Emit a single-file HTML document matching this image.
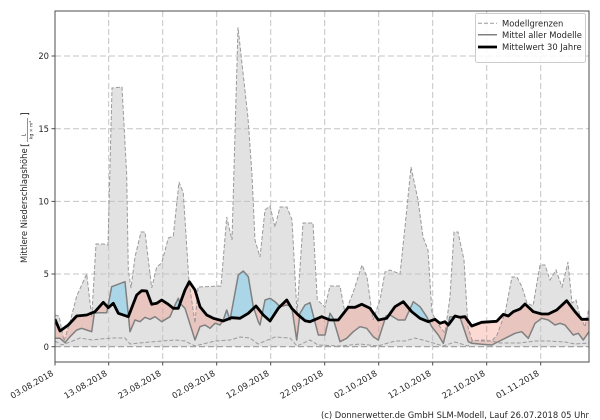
<!DOCTYPE html>
<html>
<head>
<meta charset="utf-8">
<style>
html,body{margin:0;padding:0;background:#fff;}
svg{display:block;}
text{font-family:"DejaVu Sans","Liberation Sans",sans-serif;fill:#262626;}
</style>
</head>
<body>
<svg width="600" height="420" viewBox="0 0 600 420" xmlns="http://www.w3.org/2000/svg">
<defs>
<clipPath id="plot"><rect x="55" y="11" width="534" height="351"/></clipPath>
<clipPath id="above"><polygon points="55,0 589,0 589,319.3 581.7,319.3 575,311.7 566.7,300.7 556.7,310 548.3,314 541.7,314 533.3,311.7 525,304 520,309 513.3,311.7 508.3,316 503.3,314.3 496.7,321.3 481.7,322.3 471.7,326 465,316.7 460,317.3 455,316 448.3,325 445,321.7 440,323.3 435,319.3 428.3,321.7 420,318.3 411.7,311.7 403.3,301.7 395,306.7 386.7,318.3 378.3,320 370,308.3 361.7,304.3 355,307.3 348.3,307.3 338.3,320 330,320 321.7,316.7 310,321.7 305,320.7 298.3,315 291.7,308.3 286.7,300 278.3,308.3 270,321 263.3,315 256,306 248.3,313.3 240,318.3 231.7,317.7 223.3,321 213.3,318.3 206.7,315 200,306.7 195,290 189.3,281.7 185,290 178.3,308.3 173.3,308.3 168.3,304.3 161.7,300 156.7,303.3 151.7,304.3 146.7,291 141.7,290.7 136.7,295 128.3,316.7 118.3,313.3 113.3,303.3 108.3,307.7 103.3,302.3 95,311.7 86.7,315 76.7,316 68.3,325 60,331 55,319.3"/></clipPath>
<clipPath id="below"><polygon points="55,420 589,420 589,319.3 581.7,319.3 575,311.7 566.7,300.7 556.7,310 548.3,314 541.7,314 533.3,311.7 525,304 520,309 513.3,311.7 508.3,316 503.3,314.3 496.7,321.3 481.7,322.3 471.7,326 465,316.7 460,317.3 455,316 448.3,325 445,321.7 440,323.3 435,319.3 428.3,321.7 420,318.3 411.7,311.7 403.3,301.7 395,306.7 386.7,318.3 378.3,320 370,308.3 361.7,304.3 355,307.3 348.3,307.3 338.3,320 330,320 321.7,316.7 310,321.7 305,320.7 298.3,315 291.7,308.3 286.7,300 278.3,308.3 270,321 263.3,315 256,306 248.3,313.3 240,318.3 231.7,317.7 223.3,321 213.3,318.3 206.7,315 200,306.7 195,290 189.3,281.7 185,290 178.3,308.3 173.3,308.3 168.3,304.3 161.7,300 156.7,303.3 151.7,304.3 146.7,291 141.7,290.7 136.7,295 128.3,316.7 118.3,313.3 113.3,303.3 108.3,307.7 103.3,302.3 95,311.7 86.7,315 76.7,316 68.3,325 60,331 55,319.3"/></clipPath>
</defs>

<g clip-path="url(#plot)">
<polygon fill="#e2e2e2" points="55,346.7 55,315 59,316 64,341 70,322 76.7,296 81.7,285 86.7,274 91.7,317 96,244 103,244 108,245 112,88 122,87 126.7,175 128.3,270 131,288 135,257 141,232 145,232 151.7,288 156.7,267 161.7,263 168.3,238 173.3,236 179,182 183.3,193 189,282 195,323 198,287 221,286 226.7,217 232,240 238,27.3 248,118 252,175 255,240 260,257 265,210 270,206 275,227 280,207 287,207 292,220 297,313 303,223 313,223 317.3,300 325,307 330,286 340,286 345,313 353,293 362,265 367,277 373,320 380,300 385,272 390,270 400,274 405,227 411,167 418,200 423,237 428,250 432,313 440,327 445,333 450,297 454,232 458,232 464,260 468,327 472,340 481.7,341 491.7,341 497,335 505,313 512,277 517,277 522,287 527,303 533,306 540,265 545,265 550,280 556,270 562,287 568,262 572,303 576,300 580,316 585,327 589,308 589,346.7"/>

<g stroke="#c4c4c4" stroke-width="1" stroke-dasharray="6,3" fill="none">
<line x1="55" y1="274" x2="589" y2="274"/>
<line x1="55" y1="201.4" x2="589" y2="201.4"/>
<line x1="55" y1="128.7" x2="589" y2="128.7"/>
<line x1="55" y1="56" x2="589" y2="56"/>
<line x1="108.7" y1="11" x2="108.7" y2="362"/>
<line x1="162.7" y1="11" x2="162.7" y2="362"/>
<line x1="216.7" y1="11" x2="216.7" y2="362"/>
<line x1="270.7" y1="11" x2="270.7" y2="362"/>
<line x1="324.7" y1="11" x2="324.7" y2="362"/>
<line x1="378.7" y1="11" x2="378.7" y2="362"/>
<line x1="432.7" y1="11" x2="432.7" y2="362"/>
<line x1="486.7" y1="11" x2="486.7" y2="362"/>
<line x1="540.7" y1="11" x2="540.7" y2="362"/>
</g>
<line x1="55" y1="346.7" x2="589" y2="346.7" stroke="#9a9a9a" stroke-width="1.2" stroke-dasharray="6,3"/>

<polygon clip-path="url(#above)" fill="rgb(135,206,235)" fill-opacity="0.6" points="55,338.3 60,338.3 65,342.7 70,336.7 76.7,330 81.7,328.3 86.7,330 91.7,331.7 94.3,313.3 98.3,312.7 106.7,312.7 111.7,286.7 125,281.7 130,331.7 135,320 140,321.7 145,317.3 150,319.3 155,316.7 161.7,321.7 170,316.7 175,305 178.3,298.3 180,303.3 185,308.3 195,340 200,326.7 205,325 210,328.3 215,323.3 220,325 223.3,320 226.7,310 230,320 238.3,275 243.3,271 248.3,276.7 253.3,306.7 258.3,321.7 260,325 265,300 270,298.3 275,301.7 280,306.7 286.7,305 291.7,306.7 296.7,340 300,313.3 305,305 310,302.7 318.3,335 325,335 330,313.3 333,318 340,341.7 346.7,338.3 353.3,331.7 360,326.7 366.7,328.3 373.3,336.7 378.3,340 386,316 390,315 398.3,320 405,320 413.3,301.7 420,306.7 426.7,316.7 431.7,326.7 438.3,335 443.3,343.3 450,316.7 455,316.7 460,317.3 468.3,341.7 471.7,343.3 481.7,344.3 491.7,345 501.7,340 508.3,336.7 515,333.3 521.7,331.7 528.3,338.3 535,323.3 541.7,318.3 548.3,320 555,325 560,323.3 565,325 573.3,335 578.3,333.3 583.3,340 589,331.7 589,319.3 581.7,319.3 575,311.7 566.7,300.7 556.7,310 548.3,314 541.7,314 533.3,311.7 525,304 520,309 513.3,311.7 508.3,316 503.3,314.3 496.7,321.3 481.7,322.3 471.7,326 465,316.7 460,317.3 455,316 448.3,325 445,321.7 440,323.3 435,319.3 428.3,321.7 420,318.3 411.7,311.7 403.3,301.7 395,306.7 386.7,318.3 378.3,320 370,308.3 361.7,304.3 355,307.3 348.3,307.3 338.3,320 330,320 321.7,316.7 310,321.7 305,320.7 298.3,315 291.7,308.3 286.7,300 278.3,308.3 270,321 263.3,315 256,306 248.3,313.3 240,318.3 231.7,317.7 223.3,321 213.3,318.3 206.7,315 200,306.7 195,290 189.3,281.7 185,290 178.3,308.3 173.3,308.3 168.3,304.3 161.7,300 156.7,303.3 151.7,304.3 146.7,291 141.7,290.7 136.7,295 128.3,316.7 118.3,313.3 113.3,303.3 108.3,307.7 103.3,302.3 95,311.7 86.7,315 76.7,316 68.3,325 60,331 55,319.3"/>
<polygon clip-path="url(#below)" fill="rgb(250,128,114)" fill-opacity="0.3" points="55,338.3 60,338.3 65,342.7 70,336.7 76.7,330 81.7,328.3 86.7,330 91.7,331.7 94.3,313.3 98.3,312.7 106.7,312.7 111.7,286.7 125,281.7 130,331.7 135,320 140,321.7 145,317.3 150,319.3 155,316.7 161.7,321.7 170,316.7 175,305 178.3,298.3 180,303.3 185,308.3 195,340 200,326.7 205,325 210,328.3 215,323.3 220,325 223.3,320 226.7,310 230,320 238.3,275 243.3,271 248.3,276.7 253.3,306.7 258.3,321.7 260,325 265,300 270,298.3 275,301.7 280,306.7 286.7,305 291.7,306.7 296.7,340 300,313.3 305,305 310,302.7 318.3,335 325,335 330,313.3 333,318 340,341.7 346.7,338.3 353.3,331.7 360,326.7 366.7,328.3 373.3,336.7 378.3,340 386,316 390,315 398.3,320 405,320 413.3,301.7 420,306.7 426.7,316.7 431.7,326.7 438.3,335 443.3,343.3 450,316.7 455,316.7 460,317.3 468.3,341.7 471.7,343.3 481.7,344.3 491.7,345 501.7,340 508.3,336.7 515,333.3 521.7,331.7 528.3,338.3 535,323.3 541.7,318.3 548.3,320 555,325 560,323.3 565,325 573.3,335 578.3,333.3 583.3,340 589,331.7 589,319.3 581.7,319.3 575,311.7 566.7,300.7 556.7,310 548.3,314 541.7,314 533.3,311.7 525,304 520,309 513.3,311.7 508.3,316 503.3,314.3 496.7,321.3 481.7,322.3 471.7,326 465,316.7 460,317.3 455,316 448.3,325 445,321.7 440,323.3 435,319.3 428.3,321.7 420,318.3 411.7,311.7 403.3,301.7 395,306.7 386.7,318.3 378.3,320 370,308.3 361.7,304.3 355,307.3 348.3,307.3 338.3,320 330,320 321.7,316.7 310,321.7 305,320.7 298.3,315 291.7,308.3 286.7,300 278.3,308.3 270,321 263.3,315 256,306 248.3,313.3 240,318.3 231.7,317.7 223.3,321 213.3,318.3 206.7,315 200,306.7 195,290 189.3,281.7 185,290 178.3,308.3 173.3,308.3 168.3,304.3 161.7,300 156.7,303.3 151.7,304.3 146.7,291 141.7,290.7 136.7,295 128.3,316.7 118.3,313.3 113.3,303.3 108.3,307.7 103.3,302.3 95,311.7 86.7,315 76.7,316 68.3,325 60,331 55,319.3"/>

<polyline fill="none" stroke="#9a9a9a" stroke-width="1" stroke-dasharray="4,2" points="55,341 62,345 70,342 80,338 92,340 100,339 112,338 125,338 130,344 150,342 175,340 185,341 195,346 215,341 230,340 240,337 250,338 258,344 275,337 290,338 297,346 310,340 318,345 340,346 360,344 378,346 395,341 405,341 415,338 430,342 443,346 455,342 468,346 472,341 482,340 492,341 500,343 520,343 535,341 548,341 565,342 575,344 589,343"/>

<polyline fill="none" stroke="#9a9a9a" stroke-width="1" stroke-dasharray="4,2" points="55,315 59,316 64,341 70,322 76.7,296 81.7,285 86.7,274 91.7,317 96,244 103,244 108,245 112,88 122,87 126.7,175 128.3,270 131,288 135,257 141,232 145,232 151.7,288 156.7,267 161.7,263 168.3,238 173.3,236 179,182 183.3,193 189,282 195,323 198,287 221,286 226.7,217 232,240 238,27.3 248,118 252,175 255,240 260,257 265,210 270,206 275,227 280,207 287,207 292,220 297,313 303,223 313,223 317.3,300 325,307 330,286 340,286 345,313 353,293 362,265 367,277 373,320 380,300 385,272 390,270 400,274 405,227 411,167 418,200 423,237 428,250 432,313 440,327 445,333 450,297 454,232 458,232 464,260 468,327 472,340 481.7,341 491.7,341 497,335 505,313 512,277 517,277 522,287 527,303 533,306 540,265 545,265 550,280 556,270 562,287 568,262 572,303 576,300 580,316 585,327 589,308"/>

<polyline fill="none" stroke="#808080" stroke-width="1.5" stroke-linejoin="round" points="55,338.3 60,338.3 65,342.7 70,336.7 76.7,330 81.7,328.3 86.7,330 91.7,331.7 94.3,313.3 98.3,312.7 106.7,312.7 111.7,286.7 125,281.7 130,331.7 135,320 140,321.7 145,317.3 150,319.3 155,316.7 161.7,321.7 170,316.7 175,305 178.3,298.3 180,303.3 185,308.3 195,340 200,326.7 205,325 210,328.3 215,323.3 220,325 223.3,320 226.7,310 230,320 238.3,275 243.3,271 248.3,276.7 253.3,306.7 258.3,321.7 260,325 265,300 270,298.3 275,301.7 280,306.7 286.7,305 291.7,306.7 296.7,340 300,313.3 305,305 310,302.7 318.3,335 325,335 330,313.3 333,318 340,341.7 346.7,338.3 353.3,331.7 360,326.7 366.7,328.3 373.3,336.7 378.3,340 386,316 390,315 398.3,320 405,320 413.3,301.7 420,306.7 426.7,316.7 431.7,326.7 438.3,335 443.3,343.3 450,316.7 455,316.7 460,317.3 468.3,341.7 471.7,343.3 481.7,344.3 491.7,345 501.7,340 508.3,336.7 515,333.3 521.7,331.7 528.3,338.3 535,323.3 541.7,318.3 548.3,320 555,325 560,323.3 565,325 573.3,335 578.3,333.3 583.3,340 589,331.7"/>

<polyline fill="none" stroke="#000" stroke-width="2.8" stroke-linejoin="round" points="55,319.3 60,331 68.3,325 76.7,316 86.7,315 95,311.7 103.3,302.3 108.3,307.7 113.3,303.3 118.3,313.3 128.3,316.7 136.7,295 141.7,290.7 146.7,291 151.7,304.3 156.7,303.3 161.7,300 168.3,304.3 173.3,308.3 178.3,308.3 185,290 189.3,281.7 195,290 200,306.7 206.7,315 213.3,318.3 223.3,321 231.7,317.7 240,318.3 248.3,313.3 256,306 263.3,315 270,321 278.3,308.3 286.7,300 291.7,308.3 298.3,315 305,320.7 310,321.7 321.7,316.7 330,320 338.3,320 348.3,307.3 355,307.3 361.7,304.3 370,308.3 378.3,320 386.7,318.3 395,306.7 403.3,301.7 411.7,311.7 420,318.3 428.3,321.7 435,319.3 440,323.3 445,321.7 448.3,325 455,316 460,317.3 465,316.7 471.7,326 481.7,322.3 496.7,321.3 503.3,314.3 508.3,316 513.3,311.7 520,309 525,304 533.3,311.7 541.7,314 548.3,314 556.7,310 566.7,300.7 575,311.7 581.7,319.3 589,319.3"/>
</g>

<rect x="55" y="11" width="534" height="351" fill="none" stroke="#4d4d4d" stroke-width="1"/>

<g stroke="#4d4d4d" stroke-width="1">
<line x1="51.5" y1="346.7" x2="55" y2="346.7"/>
<line x1="51.5" y1="274" x2="55" y2="274"/>
<line x1="51.5" y1="201.4" x2="55" y2="201.4"/>
<line x1="51.5" y1="128.7" x2="55" y2="128.7"/>
<line x1="51.5" y1="56" x2="55" y2="56"/>
</g>
<g font-size="8.4" text-anchor="end">
<text x="49" y="349.8">0</text>
<text x="49" y="277.1">5</text>
<text x="49" y="204.5">10</text>
<text x="49" y="131.8">15</text>
<text x="49" y="59.1">20</text>
</g>

<g stroke="#4d4d4d" stroke-width="1">
<line x1="55" y1="362" x2="55" y2="365.5"/>
<line x1="108.7" y1="362" x2="108.7" y2="365.5"/>
<line x1="162.7" y1="362" x2="162.7" y2="365.5"/>
<line x1="216.7" y1="362" x2="216.7" y2="365.5"/>
<line x1="270.7" y1="362" x2="270.7" y2="365.5"/>
<line x1="324.7" y1="362" x2="324.7" y2="365.5"/>
<line x1="378.7" y1="362" x2="378.7" y2="365.5"/>
<line x1="432.7" y1="362" x2="432.7" y2="365.5"/>
<line x1="486.7" y1="362" x2="486.7" y2="365.5"/>
<line x1="540.7" y1="362" x2="540.7" y2="365.5"/>
</g>
<g font-size="8.4" text-anchor="end">
<text transform="translate(54,375) rotate(-30)">03.08.2018</text>
<text transform="translate(107.7,375) rotate(-30)">13.08.2018</text>
<text transform="translate(161.7,375) rotate(-30)">23.08.2018</text>
<text transform="translate(215.7,375) rotate(-30)">02.09.2018</text>
<text transform="translate(269.7,375) rotate(-30)">12.09.2018</text>
<text transform="translate(323.7,375) rotate(-30)">22.09.2018</text>
<text transform="translate(377.7,375) rotate(-30)">02.10.2018</text>
<text transform="translate(431.7,375) rotate(-30)">12.10.2018</text>
<text transform="translate(485.7,375) rotate(-30)">22.10.2018</text>
<text transform="translate(539.7,375) rotate(-30)">01.11.2018</text>
</g>

<g transform="translate(27,263) rotate(-90)">
<text x="0" y="0" font-size="8.4">Mittlere Niederschlagshöhe</text>
<text x="116" y="1" font-size="10">[</text>
<text x="128" y="-1.5" font-size="5" text-anchor="middle">L</text>
<line x1="121" y1="0.5" x2="145" y2="0.5" stroke="#262626" stroke-width="0.5"/>
<text x="133" y="5.5" font-size="4.5" text-anchor="middle">kg × m²</text>
<text x="147" y="1" font-size="10">]</text>
</g>

<rect x="475.5" y="13.5" width="110" height="49" rx="2" ry="2" fill="#fff" fill-opacity="0.85" stroke="#cccccc" stroke-width="1"/>
<line x1="478" y1="23.3" x2="497" y2="23.3" stroke="#9a9a9a" stroke-width="1" stroke-dasharray="4,2"/>
<line x1="478" y1="34.7" x2="497" y2="34.7" stroke="#808080" stroke-width="1.5"/>
<line x1="478" y1="47" x2="497" y2="47" stroke="#000" stroke-width="2.8"/>
<g font-size="8.4">
<text x="502" y="26.4">Modellgrenzen</text>
<text x="502" y="37.8">Mittel aller Modelle</text>
<text x="502" y="50.1">Mittelwert 30 Jahre</text>
</g>

<text x="589" y="418" font-size="8.4" text-anchor="end" textLength="268" lengthAdjust="spacingAndGlyphs">(c) Donnerwetter.de GmbH SLM-Modell, Lauf 26.07.2018 05 Uhr</text>
</svg>
</body>
</html>
